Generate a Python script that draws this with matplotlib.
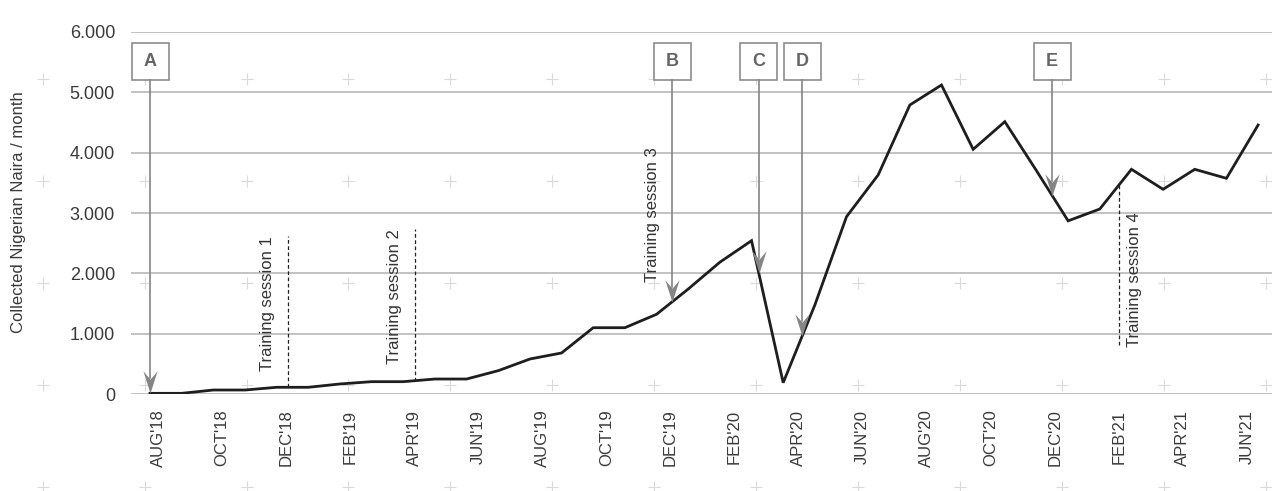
import numpy as np
import matplotlib
matplotlib.use("Agg")
import matplotlib.pyplot as plt
from matplotlib.path import Path
from matplotlib.patches import Rectangle
import matplotlib.transforms as mtransforms
from matplotlib.ticker import FuncFormatter

plt.rcParams['font.family'] = ['Liberation Sans', 'DejaVu Sans']

# ---------------- data ----------------
# monthly collections, AUG'18 .. JUL'21
values = [16, 16, 71, 71, 116, 116, 171, 209, 209, 253, 253, 391, 584, 684,
          1102, 1102, 1324, 1742, 2186, 2542, 192, 1478, 2939, 3630, 4787,
          5118, 4054, 4511, 3700, 2870, 3066, 3723, 3392, 3723, 3574, 4456]
months = np.arange(len(values))

tick_labels = ["AUG'18", "OCT'18", "DEC'18", "FEB'19", "APR'19", "JUN'19",
               "AUG'19", "OCT'19", "DEC'19", "FEB'20", "APR'20", "JUN'20",
               "AUG'20", "OCT'20", "DEC'20", "FEB'21", "APR'21", "JUN'21"]
tick_months = np.arange(0, 2 * len(tick_labels), 2)

y_ticks = [0, 1000, 2000, 3000, 4000, 5000, 6000]

# events (boxed letters with arrows), month position
event_labels = ['A', 'B', 'C', 'D', 'E']
event_x = [0.0, 16.5, 19.23, 20.6, 28.5]

# training sessions: month position, extent of dashed line
session_names = ['Training session 1', 'Training session 2',
                 'Training session 3', 'Training session 4']
session_x = [4.35, 8.37, 16.5, 30.6]
session_end = [2620, 2730, 4090, 788]

# ---------------- figure ----------------
W, H = 1272, 491
fig = plt.figure(figsize=(W / 100, H / 100), dpi=100)

# background "+" pattern
bg = fig.add_axes([0, 0, 1, 1], zorder=0)
bg.set_xlim(0, W)
bg.set_ylim(H, 0)
bg.axis('off')
px = 42.7 + 101.9 * np.arange(13)
py = 79.3 + 101.9 * np.arange(5)
PX, PY = np.meshgrid(px, py)
bg.plot(PX.ravel(), PY.ravel(), linestyle='none', marker='+', markersize=9,
        markeredgewidth=0.8, color='#dadada')

ax_left, ax_right = 131 / W, 1.0
ax_bottom = (H - 394.3) / H
ax_top = (H - 31.7) / H
ax = fig.add_axes([ax_left, ax_bottom, ax_right - ax_left, ax_top - ax_bottom], zorder=2)
ax.patch.set_alpha(0)

x_scale = 31.66
ax.set_xlim((131 - 150) / x_scale, (W - 150) / x_scale)
ax.set_ylim(0, 6000)

for s in ax.spines.values():
    s.set_visible(False)
ax.set_yticks(y_ticks)
ax.yaxis.set_major_formatter(FuncFormatter(lambda v, p: f"{v:,.0f}".replace(',', '.')))
ax.tick_params(axis='y', length=0, pad=11.5, labelsize=13, labelcolor='#3a3a3a')
ax.set_xticks([])
ax.grid(axis='y', color='#b8b8b8', linewidth=1.2)
ax.set_axisbelow(True)

# data line
ax.plot(months, values, color='#1e1e1e', linewidth=2.0, zorder=3,
        solid_joinstyle='miter')

# x tick labels on a twin axis
ax2 = ax.twiny()
ax2.set_xlim((131 - 158) / 32.03, (W - 158) / 32.03)
ax2.xaxis.set_ticks_position('bottom')
ax2.xaxis.set_label_position('bottom')
for s in ax2.spines.values():
    s.set_visible(False)
ax2.set_xticks(tick_months)
ax2.set_xticklabels(tick_labels, rotation=90)
ax2.tick_params(axis='x', length=0, pad=11, labelsize=12, labelcolor='#3a3a3a')

# y label
fig.text(18.5 / W, 0.567, 'Collected Nigerian Naira / month', rotation=90,
         ha='center', va='center', fontsize=12, color='#3a3a3a')

# events
blend = mtransforms.blended_transform_factory(ax.transData, ax.transAxes)
box_w = 37 / x_scale
box_bottom = (394.3 - 80) / 362.6
box_h = 37 / 362.6
head = Path([(0, 0), (-0.32, 1.0), (0, 0.62), (0.32, 1.0), (0, 0)],
            [Path.MOVETO, Path.LINETO, Path.LINETO, Path.LINETO, Path.CLOSEPOLY])
arrow_c = '#858585'
for lab, ex in zip(event_labels, event_x):
    ey = np.interp(ex, months, values)
    ax.add_patch(Rectangle((ex - box_w / 2, box_bottom), box_w, box_h,
                           transform=blend, facecolor='white', edgecolor='#8c8c8c',
                           linewidth=1.2, zorder=4))
    ax.text(ex, box_bottom + box_h / 2, lab, transform=blend, ha='center',
            va='center', fontsize=13, fontweight='bold', color='#666666', zorder=5)
    # stem from box bottom to data point
    y_box_data = box_bottom * 6000
    ax.plot([ex, ex], [y_box_data, ey + 250], color=arrow_c, linewidth=1.2, zorder=4)
    ax.plot([ex], [ey], marker=head, markersize=32, color=arrow_c,
            markeredgewidth=0, linestyle='none', zorder=4)

# training sessions
for i, (name, sx, send) in enumerate(zip(session_names, session_x, session_end)):
    sy = np.interp(sx, months, values)
    if i == 2:
        ax.annotate(name, xy=(sx, send), xytext=(-9, 0), textcoords='offset points',
                    rotation=90, ha='right', va='top', fontsize=12, color='#333333')
        continue
    ax.plot([sx, sx], [sy, send], color='#222222', linewidth=0.9,
            linestyle=(0, (3, 2)), zorder=3)
    if send > sy:
        ax.annotate(name, xy=(sx, send), xytext=(-9, 0), textcoords='offset points',
                    rotation=90, ha='right', va='top', fontsize=12, color='#333333')
    else:
        ax.annotate(name, xy=(sx, send), xytext=(6, 0), textcoords='offset points',
                    rotation=90, ha='left', va='bottom', fontsize=12, color='#333333')

fig.savefig('out.png', dpi=100)
